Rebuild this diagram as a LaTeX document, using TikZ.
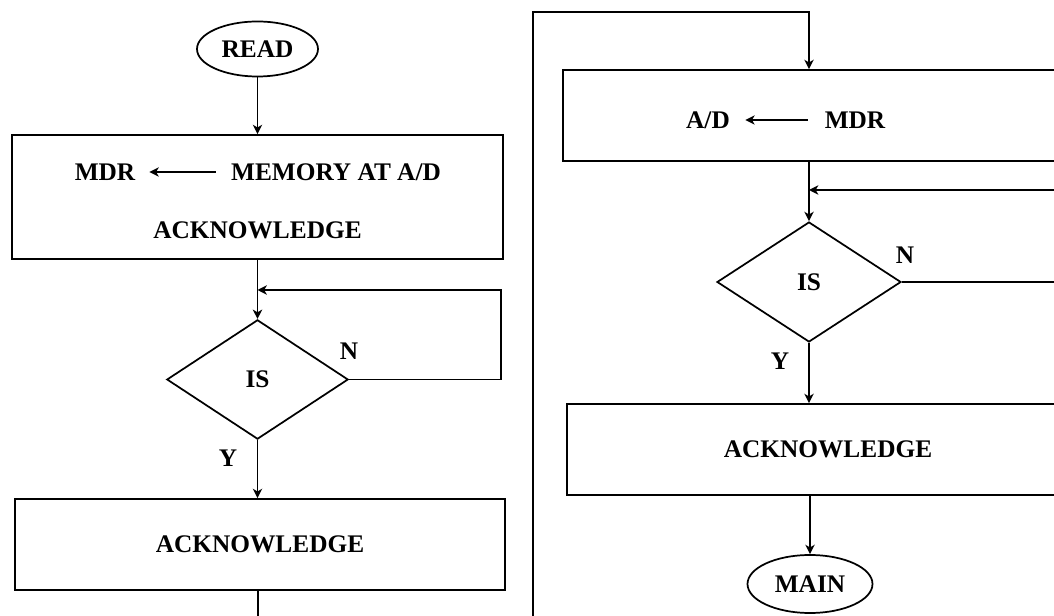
\documentclass[tikz,border=0pt]{standalone}
\usepackage{fontspec}
\setmainfont{Liberation Serif}
\usetikzlibrary{shapes.geometric,arrows.meta}

\begin{document}
\begin{tikzpicture}[>={Stealth[length=7pt,width=7pt,inset=2pt]},x=0.75pt,y=-0.75pt,line width=1.3pt,
  every node/.style={font=\fontsize{19}{23}\selectfont\bfseries},
  txt/.style={inner sep=0pt,text height=13pt,text depth=0pt},
  procbox/.style={draw,rectangle,inner sep=0pt,minimum height=68.25pt},
  termnode/.style={draw,ellipse,inner sep=0pt},
  isnode/.style={draw,diamond,inner sep=0pt,minimum width=136pt,minimum height=89.5pt},
  textarrow/.style={->,line width=0.9pt}]
  \useasboundingbox (0,0) rectangle (1054,616);
  \clip (0,0) rectangle (1054,616);

  % Read cycle
  \node[termnode,minimum width=90.75pt,minimum height=41.25pt] (read) at (257.5,49) {READ};
  \node[procbox,minimum width=368.25pt,minimum height=93pt] (fetch) at (257.5,197) {};
  \node[txt] (mdrA) at (105,172) {MDR};
  \node[txt] (memA) at (336,172) {MEMORY AT A/D};
  \node[txt] (ackA) at (257.5,230) {ACKNOWLEDGE};
  \node[isnode] (isA) at (257.5,379.5) {IS};
  \node[txt] (nA) at (349,351) {N};
  \node[txt] (yA) at (228,458) {Y};
  \node[procbox,minimum width=367.5pt] (ackB) at (260,544.5) {ACKNOWLEDGE};
  \coordinate (waitA) at (501,290);
  \coordinate (outA) at (258,630);

  \draw[textarrow,shorten <=11pt,shorten >=10pt] (memA.west) -- (mdrA.east);
  \draw[->] (read) -- (fetch);
  \draw[->] (fetch) -- (isA);
  \draw[->] (isA.east) -| (waitA) -- (waitA -| isA.north); % wait loop
  \draw[->] (isA.south) -- (isA.south |- ackB.north);
  \draw (ackB.south -| outA) -- (outA);

  % Write cycle
  \coordinate (backB) at (533,630);
  \coordinate (topB) at (533,12);
  \node[procbox,minimum width=380.25pt] (store) at (816.5,115.5) {};
  \node[txt] (adB) at (708,120) {A/D};
  \node[txt] (mdrB) at (855,120) {MDR};
  \node[isnode,minimum width=138pt,minimum height=90pt] (isB) at (809,282) {IS};
  \node[txt] (nB) at (905,255) {N};
  \node[txt] (yB) at (780,361) {Y};
  \node[procbox,minimum width=391.5pt] (ackD) at (828,449.5) {ACKNOWLEDGE};
  \node[termnode,minimum width=93.75pt,minimum height=43.5pt] (main) at (810,584) {MAIN};
  \coordinate (waitB) at (1070,190);

  \draw[textarrow,shorten <=12pt,shorten >=11pt] (mdrB.west) -- (adB.east);
  \draw[->] (backB) -- (topB) -| (isB.north |- store.north);
  \draw[->] (isB.north |- store.south) -- (isB.north);
  \draw[->] (waitB) -- (waitB -| isB.north); % wait loop
  \draw (isB.east) -- (isB.east -| waitB);
  \draw[->] (isB.south) -- (isB.south |- ackD.north);
  \draw[->] (ackD.south -| main) -- (main);
\end{tikzpicture}
\end{document}
